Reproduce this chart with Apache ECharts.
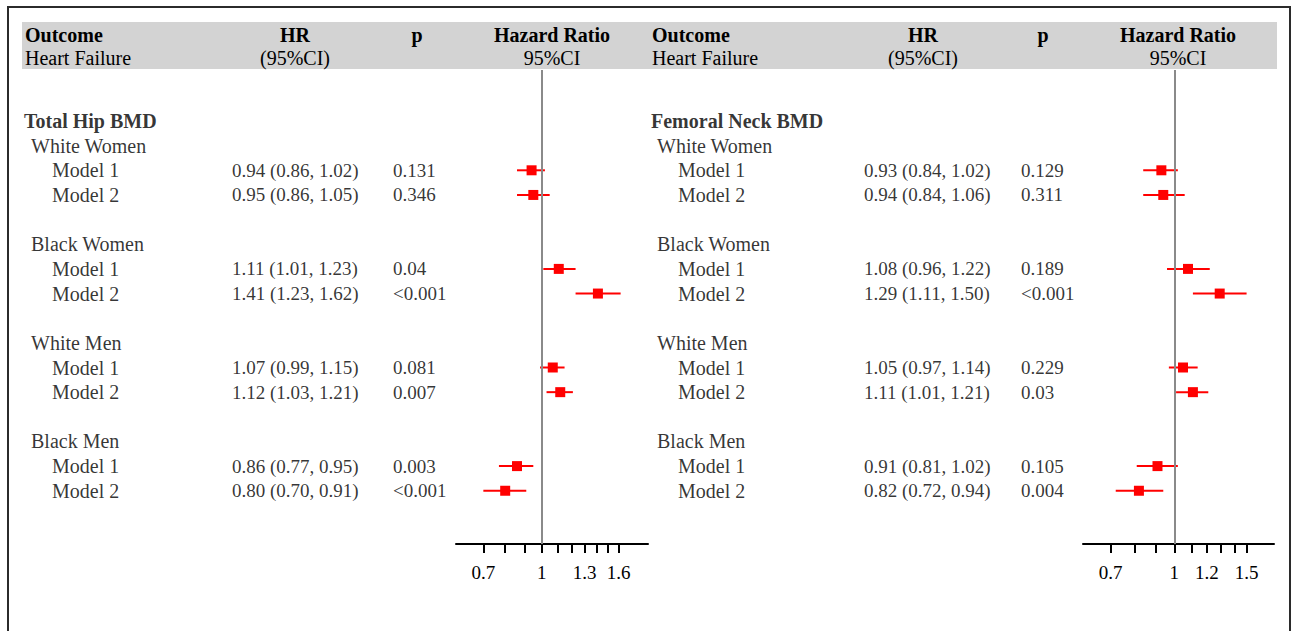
<!DOCTYPE html>
<html>
<head>
<meta charset="utf-8">
<script src="https://cdn.jsdelivr.net/npm/echarts@6/dist/echarts.min.js"></script>
<style>
  html, body { margin: 0; padding: 0; background: #fff; }
  #chart { width: 1293px; height: 631px; }
</style>
</head>
<body>
<div id="chart"></div>
<script>
// data
var groups = ['White Women', 'Black Women', 'White Men', 'Black Men'];
var models = ['Model 1', 'Model 2'];

var hipHR = [0.94, 0.95, 1.11, 1.41, 1.07, 1.12, 0.86, 0.80];
var hipLo = [0.86, 0.86, 1.01, 1.23, 0.99, 1.03, 0.77, 0.70];
var hipHi = [1.02, 1.05, 1.23, 1.62, 1.15, 1.21, 0.95, 0.91];
var hipP = ['0.131', '0.346', '0.04', '<0.001', '0.081', '0.007', '0.003', '<0.001'];

var neckHR = [0.93, 0.94, 1.08, 1.29, 1.05, 1.11, 0.91, 0.82];
var neckLo = [0.84, 0.84, 0.96, 1.11, 0.97, 1.01, 0.81, 0.72];
var neckHi = [1.02, 1.06, 1.22, 1.50, 1.14, 1.21, 1.02, 0.94];
var neckP = ['0.129', '0.311', '0.189', '<0.001', '0.229', '0.03', '0.105', '0.004'];

var hipTicks = [0.7, 0.8, 0.9, 1.0, 1.1, 1.2, 1.3, 1.4, 1.5, 1.6];
var hipLabels = [0.7, 1, 1.3, 1.6];
var neckTicks = [0.7, 0.8, 0.9, 1.0, 1.1, 1.2, 1.3, 1.4, 1.5];
var neckLabels = [0.7, 1, 1.2, 1.5];

// layout
var ROW0 = 121, ROWH = 24.65;
var FONT = '"Liberation Serif", "Times New Roman", serif';
var FS = 19;   // numbers
var FW = 20;   // words
function rowOf(px) { return (px - ROW0) / ROWH; }

var panels = [
  { title: 'Total Hip BMD', hr: hipHR, lo: hipLo, hi: hipHi, p: hipP, ticks: hipTicks, labels: hipLabels,
    col: { title: 24, group: 31, model: 52, hr: 232, p: 393 },
    grid: { left: 456, width: 192 }, min: -0.5238, max: 0.6497 },
  { title: 'Femoral Neck BMD', hr: neckHR, lo: neckLo, hi: neckHi, p: neckP, ticks: neckTicks, labels: neckLabels,
    col: { title: 651, group: 657, model: 678, hr: 864, p: 1021 },
    grid: { left: 1083, width: 191 }, min: -0.5121, max: 0.5592 }
];

var grids = [{ left: 0, top: 0, width: 1293, height: 631 }];
var xAxes = [{ gridIndex: 0, type: 'value', min: 0, max: 1293, show: false }];
var yAxes = [{ gridIndex: 0, type: 'value', inverse: true, min: rowOf(0), max: rowOf(631), show: false }];
var series = [];

function textSeries(data, size, bold) {
  return {
    type: 'scatter', xAxisIndex: 0, yAxisIndex: 0, symbolSize: 0, silent: true,
    data: data,
    label: {
      show: true, position: 'right', distance: 0,
      formatter: function (p) { return p.value[2]; },
      fontFamily: FONT, fontSize: size, fontWeight: bold ? 'bold' : 'normal', color: '#000'
    }
  };
}

panels.forEach(function (pn, k) {
  var gi = k + 1;
  var titles = [[pn.col.title, 0, pn.title]];
  var words = [];
  var nums = [];
  var squares = [];
  var whiskers = [];
  groups.forEach(function (g, gi2) {
    var gRow = 1 + gi2 * 4;
    words.push([pn.col.group, gRow, g]);
    models.forEach(function (m, mi) {
      var i = gi2 * 2 + mi;
      var row = gRow + 1 + mi;
      words.push([pn.col.model, row, m]);
      nums.push([pn.col.hr, row, pn.hr[i].toFixed(2) + ' (' + pn.lo[i].toFixed(2) + ', ' + pn.hi[i].toFixed(2) + ')']);
      nums.push([pn.col.p, row, pn.p[i]]);
      squares.push([Math.log(pn.hr[i]), row]);
      whiskers.push([Math.log(pn.lo[i]), Math.log(pn.hi[i]), row]);
    });
  });
  series.push(textSeries(titles, FW, true));
  series.push(textSeries(words, FW, false));
  series.push(textSeries(nums, FS, false));

  grids.push({ left: pn.grid.left, width: pn.grid.width, top: 70, height: 474 });
  xAxes.push({
    gridIndex: gi, type: 'value', min: pn.min, max: pn.max,
    splitLine: { show: false },
    axisLine: { show: true, onZero: false, lineStyle: { color: '#000', width: 2 } },
    axisTick: { show: true, length: 9, customValues: pn.ticks.map(Math.log), lineStyle: { color: '#000', width: 2 } },
    axisLabel: {
      show: true, margin: 19, customValues: pn.labels.map(Math.log),
      formatter: function (v) { return String(Math.round(Math.exp(v) * 10) / 10); },
      fontFamily: FONT, fontSize: FS, color: '#000'
    }
  });
  yAxes.push({ gridIndex: gi, type: 'value', inverse: true, min: rowOf(70), max: rowOf(544), show: false });

  series.push({
    type: 'custom', xAxisIndex: gi, yAxisIndex: gi, silent: true,
    data: whiskers,
    encode: { x: [0, 1], y: 2 },
    renderItem: function (params, api) {
      var a = api.coord([api.value(0), api.value(2)]);
      var b = api.coord([api.value(1), api.value(2)]);
      return { type: 'line', shape: { x1: a[0], y1: a[1], x2: b[0], y2: b[1] }, style: { stroke: '#ff0000', lineWidth: 2 } };
    }
  });
  series.push({
    type: 'scatter', xAxisIndex: gi, yAxisIndex: gi, silent: true,
    symbol: 'rect', symbolSize: 10, itemStyle: { color: '#ff0000', opacity: 1 },
    data: squares,
    markLine: {
      silent: true, symbol: ['none', 'none'], label: { show: false },
      lineStyle: { color: '#8a8a8a', width: 2, type: 'solid' },
      data: [{ xAxis: 0 }]
    },
    z: 5
  });
});

function headText(x, y, text, bold, align) {
  return {
    type: 'text', x: x, y: y, silent: true,
    style: {
      text: text, fill: '#000', textAlign: align || 'left', textVerticalAlign: 'middle',
      font: (bold ? 'bold ' : '') + FW + 'px ' + FONT
    }
  };
}

var graphic = [
  { type: 'rect', shape: { x: 8, y: 7, width: 1282, height: 700 }, style: { fill: 'none', stroke: '#2b2b2b', lineWidth: 2 }, silent: true },
  { type: 'rect', shape: { x: 22, y: 22, width: 1255, height: 47 }, style: { fill: '#d3d3d3' }, silent: true },
  headText(25, 35, 'Outcome', true), headText(25, 58, 'Heart Failure', false),
  headText(295, 35, 'HR', true, 'center'), headText(295, 58, '(95%CI)', false, 'center'),
  headText(417, 35, 'p', true, 'center'),
  headText(552, 35, 'Hazard Ratio', true, 'center'), headText(552, 58, '95%CI', false, 'center'),
  headText(652, 35, 'Outcome', true), headText(652, 58, 'Heart Failure', false),
  headText(923, 35, 'HR', true, 'center'), headText(923, 58, '(95%CI)', false, 'center'),
  headText(1043, 35, 'p', true, 'center'),
  headText(1178, 35, 'Hazard Ratio', true, 'center'), headText(1178, 58, '95%CI', false, 'center')
];

var chart = echarts.init(document.getElementById('chart'), null, { renderer: 'svg' });
chart.setOption({
  animation: false,
  backgroundColor: '#fff',
  grid: grids,
  xAxis: xAxes,
  yAxis: yAxes,
  series: series,
  graphic: graphic
});
</script>
</body>
</html>
